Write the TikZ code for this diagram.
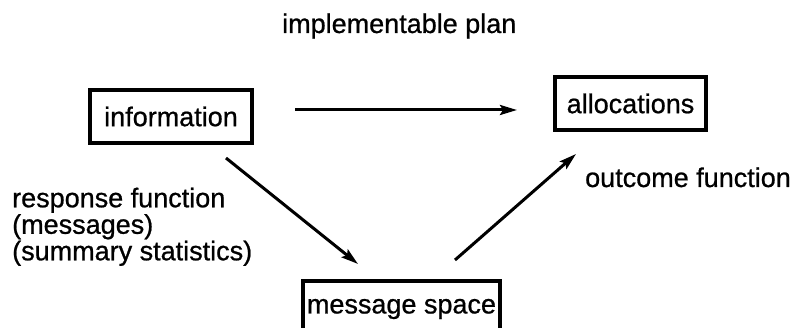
\documentclass[tikz,border=0pt]{standalone}
\usepackage{fontspec}
\setmainfont{Liberation Sans}
\newfontfamily\lettering{Liberation Sans}[FakeBold=0.8]
\usetikzlibrary{arrows.meta}

\tikzset{
  label text/.style={font=\lettering\fontsize{27}{26.5}\selectfont, inner sep=0pt},
  box/.style={draw, line width=3.2pt, inner sep=0pt,
              font=\lettering\fontsize{27}{27}\selectfont},
  flow/.style={line width=3pt,
               -{Stealth[length=17pt,width=10pt,inset=3pt]}}
}

\begin{document}
\begin{tikzpicture}[x=1pt,y=-1pt]
  \useasboundingbox (0,0) rectangle (797,328);
  \clip (0,0) rectangle (797,328);

  % the three stages of the mechanism
  \node[box, minimum width=162pt, minimum height=53pt] (info)  at (171,116.5)   {information};
  \node[box, minimum width=151pt, minimum height=53pt] (alloc) at (630.5,103.5) {allocations};
  \node[box, minimum width=197pt, minimum height=56pt] (msg)   at (401.5,309)   {message space};

  % labels of the maps between them
  \node[label text, anchor=base west] (plan) at (282,33) {implementable plan};
  \node[label text, anchor=north west, align=left] (resp) at (12,187.5)
    {response function\\(messages)\\(summary statistics)};
  \node[label text, anchor=base west] (outc) at (585,187) {outcome function};

  % end points of the arrows, clear of the boxes
  \coordinate (planA) at (295,110);
  \coordinate (planB) at (517,110);
  \coordinate (respA) at (226,158);
  \coordinate (respB) at (358,264);
  \coordinate (outcA) at (455,260);
  \coordinate (outcB) at (576,154);

  \draw[flow] (planA) -- (planB);
  \draw[flow] (respA) -- (respB);
  \draw[flow] (outcA) -- (outcB);
\end{tikzpicture}
\end{document}
